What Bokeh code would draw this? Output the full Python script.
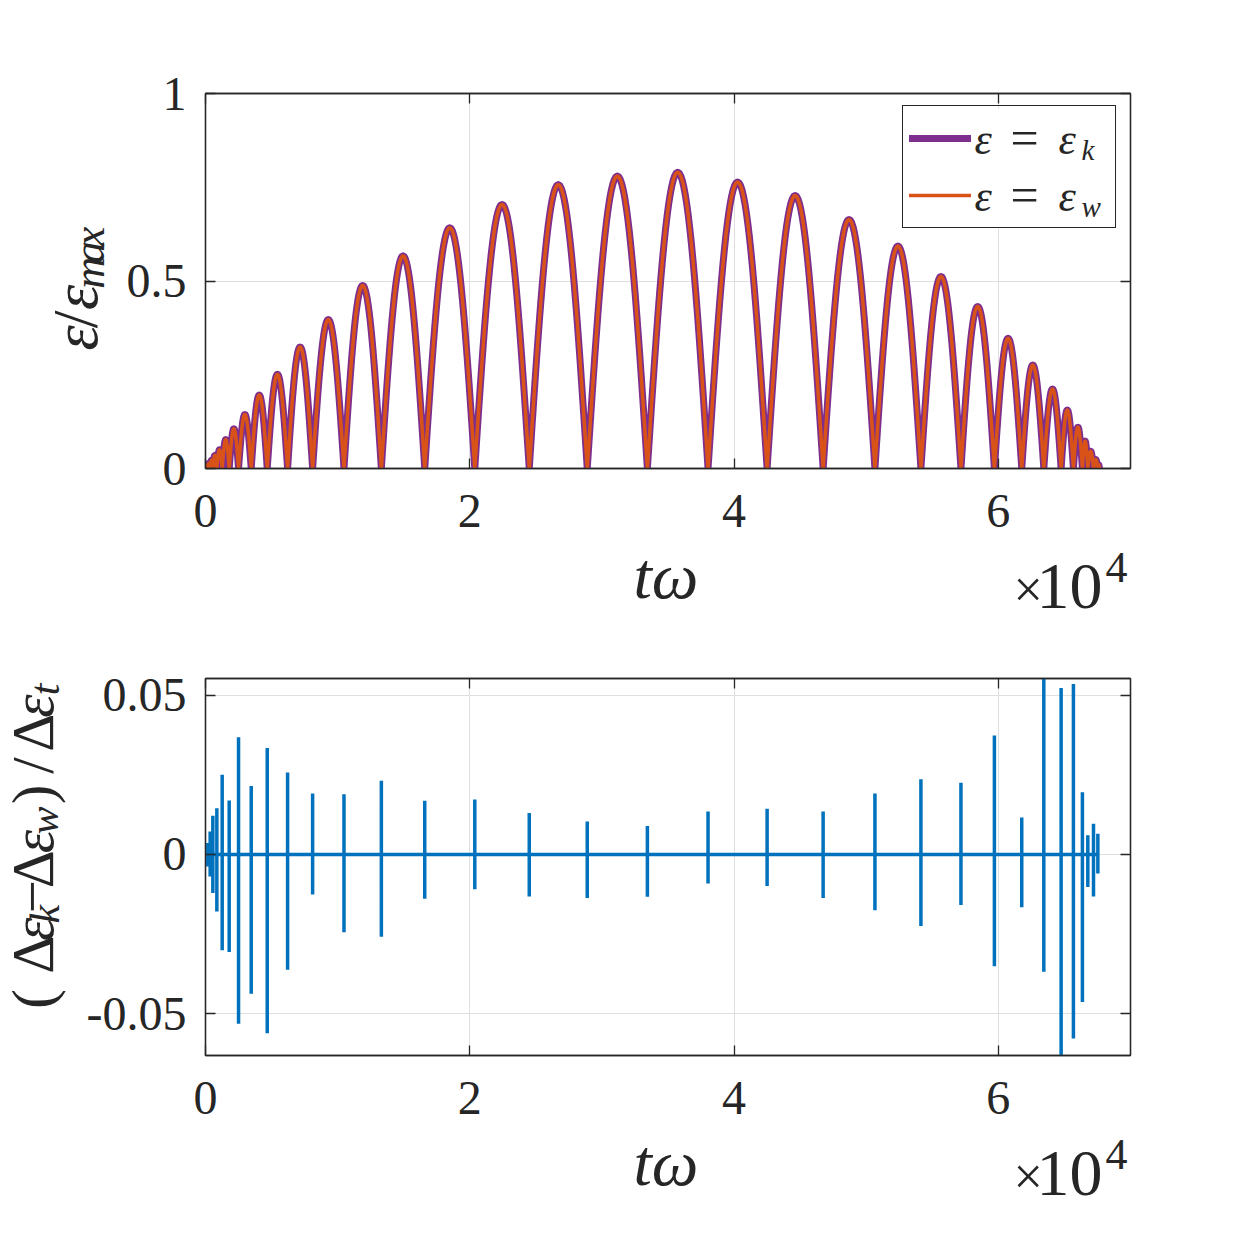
import math
import numpy as np
from bokeh.plotting import figure
from bokeh.models import (Range1d, FixedTicker, LinearAxis, Label, Legend,
                          LegendItem, BoxAnnotation)
from bokeh.layouts import column, row
from bokeh.embed import file_html
from bokeh.resources import INLINE

# ---------------- data ----------------
# times (t*omega) where the energy touches zero (arch boundaries)
arch_zeros = [0, 177, 354, 556, 859, 1263, 1793, 2500, 3460, 4672, 6212, 8106,
              10480, 13308, 16591, 20379, 24500, 28890, 33440, 38030, 42500,
              46740, 50660, 54140, 57170, 59700, 61770, 63440, 64750, 65680,
              66360, 66770, 67200, 67530, 67650]
# peak height of each arch (eps/eps_max)
arch_peaks = [0.008, 0.014, 0.022, 0.035, 0.050, 0.077, 0.106, 0.144, 0.196,
              0.251, 0.324, 0.397, 0.488, 0.567, 0.642, 0.704, 0.757, 0.780,
              0.790, 0.764, 0.728, 0.664, 0.593, 0.512, 0.432, 0.347, 0.276,
              0.212, 0.156, 0.110, 0.073, 0.046, 0.024, 0.010]

# spikes of the relative difference at the zero crossings
spike_t = [177, 354, 556, 859, 1263, 1793, 2500, 3460, 4672, 6212, 8106, 10480,
           13308, 16591, 20379, 24500, 28890, 33440, 38030, 42500, 46740, 50660,
           54140, 57170, 59700, 61770, 63440, 64750, 65680, 66360, 66770, 67200,
           67530]
spike_top = [0.0036, 0.0072, 0.0121, 0.0145, 0.0250, 0.0169, 0.0368, 0.0215,
             0.0334, 0.0257, 0.0191, 0.0189, 0.0231, 0.0168, 0.0172, 0.0130,
             0.0103, 0.0089, 0.0135, 0.0143, 0.0135, 0.0191, 0.0236, 0.0225,
             0.0373, 0.0116, 0.0552, 0.0522, 0.0535, 0.0195, 0.0060, 0.0096,
             0.0065]
spike_bottom = [-0.0038, -0.0069, -0.0121, -0.0179, -0.0301, -0.0306, -0.0531,
                -0.0437, -0.0561, -0.0362, -0.0126, -0.0244, -0.0258, -0.0139,
                -0.0109, -0.0132, -0.0137, -0.0133, -0.0091, -0.0099, -0.0137,
                -0.0175, -0.0225, -0.0159, -0.0351, -0.0166, -0.0368, -0.0631,
                -0.0578, -0.0463, -0.0102, -0.0132, -0.0060]

x_ticks = [0, 20000, 40000, 60000]
x_tick_labels = ["0", "2", "4", "6"]
top_y_ticks = [0, 0.5, 1]
top_y_tick_labels = ["0", "0.5", "1"]
bot_y_ticks = [-0.05, 0, 0.05]
bot_y_tick_labels = ["-0.05", "0", "0.05"]

# ---------------- curves built from the data ----------------
curve_x, curve_y = [], []
for a, b, pk in zip(arch_zeros[:-1], arch_zeros[1:], arch_peaks):
    u = np.linspace(0.0, 1.0, 41)
    curve_x.extend((a + (b - a) * u).tolist())
    curve_y.extend((pk * np.sin(np.pi * u)).tolist())

diff_x, diff_y = [0.0], [0.0]
for t, tp, bt in zip(spike_t, spike_top, spike_bottom):
    diff_x += [t, t, t, t]
    diff_y += [0.0, tp, bt, 0.0]
diff_x.append(arch_zeros[-1])
diff_y.append(0.0)

FONT = "Liberation Serif"
AX = "#262626"
GRID = "#DFDFDF"
PURPLE = "#7E2F8E"
ORANGE = "#D95319"
BLUE = "#0072BD"
R = math.pi / 2
MID = 0.3375   # distance (in em) between the baseline and the middle of the text box


def style(p, yticks, ylabels):
    bottom = p.below[0]
    left = p.left[0]
    right = LinearAxis(ticker=FixedTicker(ticks=yticks),
                       major_label_overrides={v: "" for v in yticks})
    above = LinearAxis(ticker=FixedTicker(ticks=x_ticks),
                       major_label_overrides={v: "" for v in x_ticks})
    p.add_layout(right, "right")
    p.add_layout(above, "above")
    bottom.ticker = FixedTicker(ticks=x_ticks)
    bottom.major_label_overrides = dict(zip(x_ticks, x_tick_labels))
    left.ticker = FixedTicker(ticks=yticks)
    left.major_label_overrides = dict(zip(yticks, ylabels))
    for ax in (bottom, left, right, above):
        ax.axis_line_color = AX
        ax.axis_line_width = 1.3
        ax.major_tick_line_color = AX
        ax.major_tick_line_width = 1.3
        ax.major_tick_in = 10
        ax.major_tick_out = 0
        ax.minor_tick_line_color = None
        ax.major_label_text_font = FONT
        ax.major_label_text_font_size = "48px"
        ax.major_label_text_color = AX
    right.major_label_text_font_size = "1px"
    above.major_label_text_font_size = "1px"
    bottom.major_label_standoff = 26
    left.major_label_standoff = 19
    p.xgrid.ticker = FixedTicker(ticks=x_ticks)
    p.ygrid.ticker = FixedTicker(ticks=yticks)
    p.grid.grid_line_color = GRID
    p.grid.grid_line_width = 1
    p.outline_line_color = AX
    p.outline_line_width = 1.3
    p.background_fill_color = "white"
    p.border_fill_color = None


def text_fig(width, height, margin=None):
    f = figure(title=None, width=width, height=height, x_range=Range1d(0, width),
               y_range=Range1d(0, height), x_axis_type=None, y_axis_type=None,
               min_border=0, min_border_left=0, min_border_right=0,
               min_border_top=0, min_border_bottom=0,
               output_backend="svg", toolbar_location=None)
    f.outline_line_color = None
    f.background_fill_color = None
    f.border_fill_color = None
    if margin is not None:
        f.margin = margin
    return f


def add_text(p, conv, px, py, text, size, italic=False):
    # (px, py): start of the text on its baseline, in page pixels
    x, y = conv(px, py - MID * size)
    p.add_layout(Label(x=x, y=y, x_units="data", y_units="data", text=text,
                       text_font=FONT, text_font_size=f"{size}px",
                       text_font_style="italic" if italic else "normal",
                       text_color=AX, text_align="left",
                       text_baseline="middle"))


def add_rot(p, conv, base_x, center_y, text, size, italic=False):
    # vertical text read bottom-to-top; base_x = page x of its baseline,
    # center_y = page y of the middle of the piece
    x, y = conv(base_x - MID * size, center_y)
    p.add_layout(Label(x=x, y=y, x_units="data", y_units="data", text=text,
                       text_font=FONT, text_font_size=f"{size}px",
                       text_font_style="italic" if italic else "normal",
                       text_color=AX, angle=R, text_align="center",
                       text_baseline="middle"))


# ---------------- top panel ----------------
P1_H = 93 + 375 + 80          # page y 0 .. 548
p1 = figure(title=None, frame_width=925, frame_height=375,
            x_range=Range1d(0, 70000), y_range=Range1d(0, 1),
            min_border_left=85, min_border_right=120,
            min_border_top=93, min_border_bottom=80,
            output_backend="svg", toolbar_location=None)
style(p1, top_y_ticks, top_y_tick_labels)


def conv_top(px, py):
    return ((px - 205) / 925 * 70000, (468 - py) / 375)


# white backing of the legend box (hides the grid behind it)
bl, bb = conv_top(902, 228)
br, bt = conv_top(1114, 108)
p1.add_layout(BoxAnnotation(left=bl, right=br, bottom=bb, top=bt,
                            fill_color="white", fill_alpha=1.0,
                            line_color=None, level="underlay"))

r_k = p1.line(curve_x, curve_y, line_color=PURPLE, line_width=7,
              line_join="round", line_cap="round")
r_w = p1.line(curve_x, curve_y, line_color=ORANGE, line_width=3.5,
              line_join="round", line_cap="round")

legend = Legend(items=[LegendItem(label=" ", renderers=[r_k]),
                       LegendItem(label=" ", renderers=[r_w])],
                location=(697, 240), glyph_width=62, glyph_height=52,
                label_width=133, label_height=52, padding=6, spacing=5,
                label_standoff=5, margin=0, border_line_color=AX,
                border_line_alpha=1.0, border_line_width=1.3,
                background_fill_alpha=0.0, label_text_font_size="10px")
p1.add_layout(legend)

for base, sub, sb in ((154, "k", 159), (211, "w", 216)):
    add_text(p1, conv_top, 974, base, "ε", 44, True)
    add_text(p1, conv_top, 1010, base, "=", 50)
    add_text(p1, conv_top, 1058, base, "ε", 44, True)
    add_text(p1, conv_top, 1081, sb, sub, 29, True)

# y label of top panel (own narrow canvas, page x 0..120, y 0..548)
ylab1 = text_fig(120, P1_H)


def conv_y1(px, py):
    return (px, P1_H - py)


add_rot(ylab1, conv_y1, 97, 357, "ε", 64, True)
add_rot(ylab1, conv_y1, 97, 330, "/", 64)
add_rot(ylab1, conv_y1, 97, 298, "ε", 64, True)
add_rot(ylab1, conv_y1, 104, 262, "m", 44, True)
add_rot(ylab1, conv_y1, 104, 232, "a", 44, True)
add_rot(ylab1, conv_y1, 104, 209, "x", 44, True)

# x label of top panel: canvas page y 531 .. 626 (overlaps its neighbours,
# transparent), flow position 548 .. 615
XL1_TOP, XL1_H = 531, 95
xlab1 = text_fig(1250, XL1_H, margin=(-17, 0, -11, 0))


def conv_x1(px, py):
    return (px, XL1_TOP + XL1_H - py)


add_text(xlab1, conv_x1, 633, 597, "tω", 66, True)
add_text(xlab1, conv_x1, 1013, 607, "×", 52)
add_text(xlab1, conv_x1, 1036, 608, "10", 66)
add_text(xlab1, conv_x1, 1105, 582, "4", 44)

# ---------------- bottom panel ----------------
BOT_LO, BOT_HI = -0.0631, 0.0552
P2_TOP = 615
P2_H = 63 + 377 + 80          # page y 615 .. 1135
p2 = figure(title=None, frame_width=925, frame_height=377,
            x_range=Range1d(0, 70000), y_range=Range1d(BOT_LO, BOT_HI),
            min_border_left=125, min_border_right=120,
            min_border_top=63, min_border_bottom=80,
            output_backend="svg", toolbar_location=None)
style(p2, bot_y_ticks, bot_y_tick_labels)
p2.line(diff_x, diff_y, line_color=BLUE, line_width=3.5, line_join="bevel")

ylab2 = text_fig(80, P2_H)


def conv_y2(px, py):
    return (px, P2_TOP + P2_H - py)


BX = 52
pieces = [("(", 1057, BX, 59, False), ("Δ", 996, BX, 59, False),
          ("ε", 961, BX, 59, True), ("k", 940, BX + 7, 42, True),
          ("−", 916, BX, 59, False), ("Δ", 878, BX, 59, False),
          ("ε", 840, BX, 59, True), ("w", 811, BX + 6, 42, True),
          (")", 775, BX, 59, False), ("/", 735, BX, 59, False),
          ("Δ", 690, BX, 59, False), ("ε", 653, BX, 59, True),
          ("t", 630, BX + 7, 42, True)]
for txt, cy, bx, sz, it in pieces:
    add_rot(ylab2, conv_y2, bx, cy, txt, sz, it)

# x label of bottom panel: canvas page y 1120 .. 1215
XL2_TOP, XL2_H = 1120, 95
xlab2 = text_fig(1250, XL2_H, margin=(-15, 0, 0, 0))


def conv_x2(px, py):
    return (px, XL2_TOP + XL2_H - py)


DY = 587
add_text(xlab2, conv_x2, 633, 597 + DY, "tω", 66, True)
add_text(xlab2, conv_x2, 1013, 607 + DY, "×", 52)
add_text(xlab2, conv_x2, 1036, 608 + DY, "10", 66)
add_text(xlab2, conv_x2, 1105, 582 + DY, "4", 44)

layout = column(row(ylab1, p1), xlab1, row(ylab2, p2), xlab2)
open("out.html", "w").write(file_html(layout, INLINE))
